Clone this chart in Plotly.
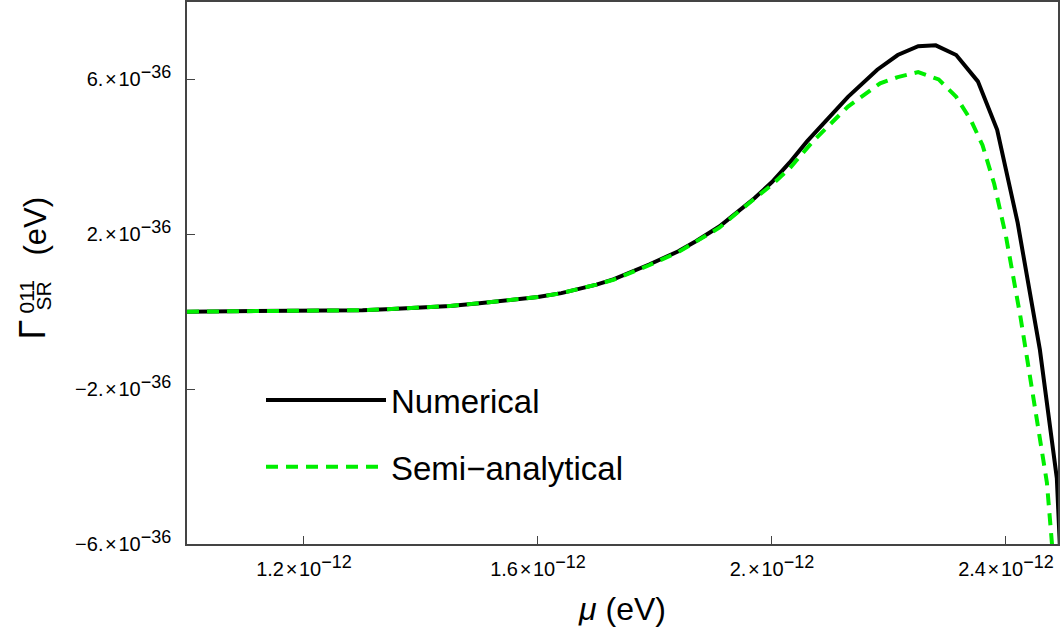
import plotly.graph_objects as go

# mu in units of 1e-12 eV, Gamma in units of 1e-36 eV
mu_num = [1.00, 1.10, 1.20, 1.30, 1.35, 1.40, 1.45, 1.50, 1.55, 1.60, 1.64, 1.67, 1.70, 1.73,
          1.76, 1.79, 1.84, 1.87, 1.91, 1.94, 1.97, 2.00, 2.03, 2.06, 2.10, 2.13, 2.18, 2.215,
          2.25, 2.28, 2.315, 2.352, 2.385, 2.42, 2.458, 2.487, 2.495]
gamma_num = [0.00, 0.01, 0.02, 0.04, 0.07, 0.10, 0.15, 0.22, 0.29, 0.38, 0.48, 0.58, 0.70, 0.84,
             1.02, 1.22, 1.56, 1.82, 2.20, 2.57, 2.93, 3.35, 3.85, 4.40, 5.05, 5.55, 6.25, 6.63,
             6.86, 6.88, 6.63, 5.95, 4.70, 2.30, -0.98, -4.30, -7.00]

mu_semi = [1.00, 1.10, 1.20, 1.30, 1.35, 1.40, 1.45, 1.50, 1.55, 1.60, 1.64, 1.67, 1.70, 1.73,
           1.76, 1.79, 1.84, 1.87, 1.91, 1.94, 1.97, 2.00, 2.03, 2.07, 2.13, 2.185, 2.215, 2.25,
           2.285, 2.315, 2.34, 2.36, 2.38, 2.40, 2.425, 2.447, 2.47, 2.482]
gamma_semi = [0.00, 0.01, 0.02, 0.04, 0.07, 0.10, 0.15, 0.22, 0.29, 0.38, 0.48, 0.58, 0.70, 0.83,
              1.01, 1.20, 1.54, 1.80, 2.17, 2.55, 2.90, 3.28, 3.70, 4.40, 5.30, 5.90, 6.06, 6.19,
              6.00, 5.55, 4.95, 4.30, 3.30, 1.95, -0.15, -2.27, -4.41, -6.60]

x_ticks = [1.2, 1.6, 2.0, 2.4]
x_ticktext = ["1.2", "1.6", "2.", "2.4"]
y_ticks = [-6, -2, 2, 6]
y_ticktext = ["\u22126.", "\u22122.", "2.", "6."]

FONT = "Liberation Sans, Arial, sans-serif"

def sci(mant, exp):
    return (mant + "\u200a\u00d7\u200a10"
            + "<span style='font-size:18px;baseline-shift:45%'>\u2212" + exp + "</span>")

fig = go.Figure()
fig.add_trace(go.Scatter(x=mu_num, y=gamma_num, mode="lines", name="Numerical",
                         legendgroup="num",
                         line=dict(color="black", width=4)))
fig.add_trace(go.Scatter(x=mu_semi, y=gamma_semi, mode="lines", name="Semi\u2212analytical",
                         legendgroup="semi",
                         line=dict(color="#00ee00", width=4, dash="12px,8px")))

W, H = 1060, 638
L, R, T, B = 187, 2, 2, 94
pw, ph = W - L - R, H - T - B

def px(xp):
    return (xp - L) / pw

def py(yp):
    return (H - B - yp) / ph

ann = [
    dict(text="\u0393", x=px(31.5), y=py(330), font=dict(size=36)),
    dict(text="011", x=px(25.5), y=py(297), font=dict(size=21)),
    dict(text="SR", x=px(42.5), y=py(296), font=dict(size=21)),
    dict(text="(eV)", x=px(35), y=py(226.5), font=dict(size=31)),
]
annotations = []
for a in ann:
    a.update(xref="paper", yref="paper", textangle=-90, showarrow=False,
             xanchor="center", yanchor="middle")
    a["font"]["family"] = FONT
    a["font"]["color"] = "black"
    annotations.append(a)

axis_common = dict(showline=True, linecolor="#444444", linewidth=1.5, mirror=True,
                   ticks="inside", ticklen=8, tickwidth=1.2, tickcolor="#444444",
                   showgrid=False, zeroline=False, automargin=False,
                   tickfont=dict(family=FONT, size=20, color="black"))

fig.update_layout(
    width=W, height=H,
    margin=dict(l=L, r=R, t=T, b=B),
    paper_bgcolor="white", plot_bgcolor="white",
    font=dict(family=FONT, color="black"),
    annotations=annotations,
    showlegend=True,
    legend=dict(x=px(261), y=py(372), xanchor="left", yanchor="top",
                bgcolor="rgba(0,0,0,0)", font=dict(family=FONT, size=33),
                itemwidth=120, traceorder="grouped", tracegroupgap=21),
    xaxis=dict(range=[1.0, 2.489], tickvals=x_ticks,
               ticktext=[sci(t, "12") for t in x_ticktext],
               ticklabelstandoff=6,
               title=dict(text="<i>\u03bc</i> (eV)", font=dict(family=FONT, size=32), standoff=19),
               **axis_common),
    yaxis=dict(range=[-6, 8], tickvals=y_ticks,
               ticktext=[sci(t, "36") for t in y_ticktext],
               ticklabelstandoff=10,
               **axis_common),
)

fig.write_html("out.html", config={"displayModeBar": False},
               post_script="document.body.style.margin='0px';")
